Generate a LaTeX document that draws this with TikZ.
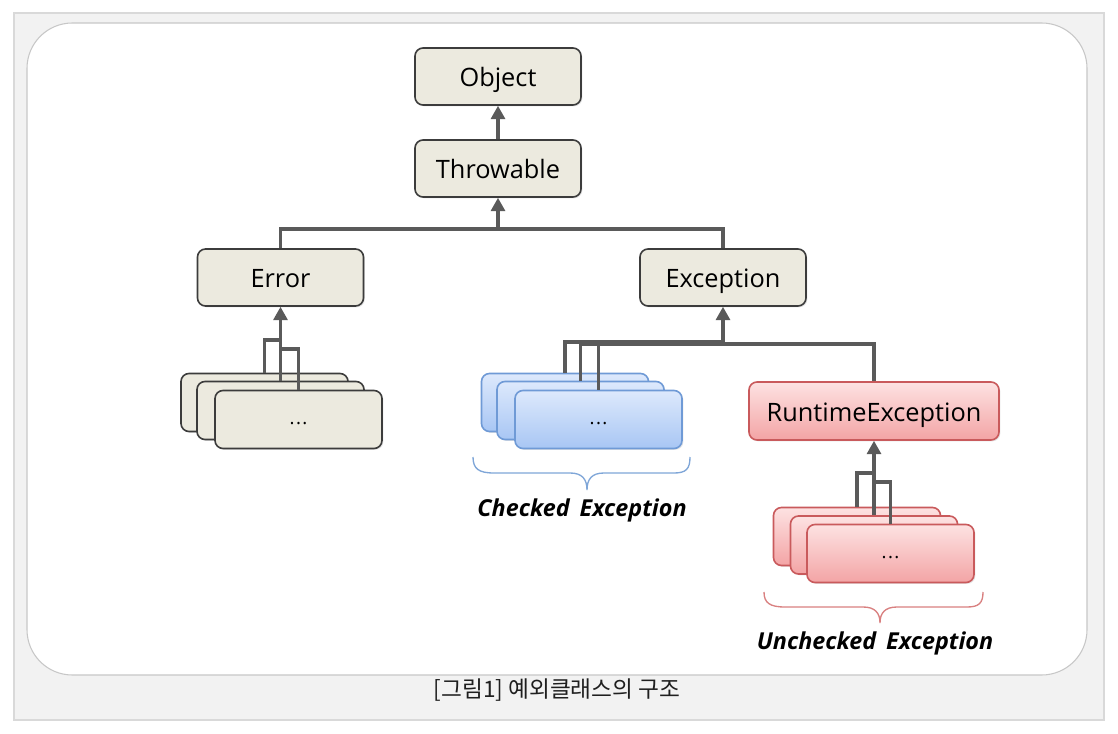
\documentclass[tikz,border=0pt]{standalone}
\usepackage{fontspec}
\setmainfont{Open Sans}
\newfontfamily\krfont{Noto Sans CJK KR}
\usetikzlibrary{arrows.meta,shadows,calc}
\definecolor{beige}{HTML}{ECEADF}
\definecolor{boxline}{HTML}{3C3C3C}
\definecolor{conn}{HTML}{5A5A5A}
\definecolor{bluetop}{HTML}{DDE9FC}
\definecolor{bluebot}{HTML}{A8C6F4}
\definecolor{blueline}{HTML}{6F9AD6}
\definecolor{redtop}{HTML}{FDE2E2}
\definecolor{redbot}{HTML}{F3A4A5}
\definecolor{redline}{HTML}{C95A5C}
\definecolor{bracecol}{HTML}{7FA6D8}
\definecolor{rbracecol}{HTML}{D98080}
\tikzset{
  cls/.style={draw=boxline, line width=1.2pt, fill=beige, rounded corners=6pt,
    minimum width=124.5pt, minimum height=42.75pt, font=\fontsize{19}{21}\selectfont,
    text height=15.5pt, text depth=0pt,
    drop shadow={opacity=0.2, shadow xshift=1pt, shadow yshift=-1pt}},
  stk/.style={cls, minimum width=125.25pt, minimum height=43.5pt, font=\fontsize{14}{16}\selectfont,
    text height=8pt, text depth=0pt},
  bstk/.style={stk, draw=blueline, top color=bluetop, bottom color=bluebot},
  rstk/.style={stk, draw=redline, top color=redtop, bottom color=redbot},
  rcls/.style={cls, draw=redline, top color=redtop, bottom color=redbot, minimum width=187.5pt, minimum height=43.5pt},
  conline/.style={draw=conn, line width=2.3pt},
  arr/.style={conline, -{Triangle[width=10.5pt,length=10pt]}},
  lbl/.style={font=\fontsize{17.5}{19}\selectfont\bfseries\itshape, text=black},
  brc/.style={line width=1pt},
}
\newcommand{\dotsx}{.\kern1pt.\kern1pt.}
\begin{document}
\begin{tikzpicture}[x=0.75pt,y=-0.75pt]
\useasboundingbox (0,0) rectangle (1118,734);
% frames
\draw[draw=black!15, fill=black!5, line width=1pt] (14,13) rectangle (1104,720);
\draw[draw=black!22, fill=white, line width=0.8pt, rounded corners=34pt] (27,23) rectangle (1087,675);
\node[font=\krfont\fontsize{17}{19}\selectfont, text=black!88] (cap) at (557,690) {[그림1] 예외클래스의 구조};

% main classes
\node[cls] (obj) at (498,76.5) {Object};
\node[cls] (thr) at (498,168.5) {Throwable};
\node[cls] (err) at (280.5,277.5) {Error};
\node[cls] (exc) at (723,277.5) {Exception};
\node[rcls] (rte) at (874,411) {RuntimeException};

% error stack
\node[stk] (e1) at (264.5,402.5) {};
\node[stk] (e2) at (280.5,410.5) {};
\node[stk] (e3) at (298.5,419.5) {\dotsx};
% checked stack
\node[bstk] (c1) at (565,402.5) {};
\node[bstk] (c2) at (580.5,410.5) {};
\node[bstk] (c3) at (598.5,419.5) {\dotsx};
% unchecked stack
\node[rstk] (u1) at (857,536.5) {};
\node[rstk] (u2) at (874,545) {};
\node[rstk] (u3) at (890.5,553.5) {\dotsx};

% junction coordinates
\coordinate (tj) at (498,229);
\coordinate (ej1) at (280.5,340);
\coordinate (ej3) at (280.5,349);
\coordinate (xj) at (723,344);
\coordinate (uj1) at (874,473);
\coordinate (uj3) at (874,482);

% connectors top
\draw[arr] (thr.north) -- (obj.south);
\draw[conline] (err.north) |- (tj);
\draw[conline] (exc.north) |- (tj);
\draw[arr] (tj) -- (thr.south);

% error group
\draw[conline] (e1.north) |- (ej1);
\draw[conline] (e3.north) |- (ej3);
\draw[arr] (e2.north) -- (err.south);

% exception group
\draw[conline] (c1.north) |- ($(xj)+(0,-2)$);
\draw[conline] (c2.north) |- (xj);
\draw[conline] (c3.north) |- (xj);
\draw[conline] (rte.north) |- (xj);
\draw[arr] (xj) -- (exc.south);

% unchecked group
\draw[conline] (u1.north) |- (uj1);
\draw[conline] (u3.north) |- (uj3);
\draw[arr] (u2.north) -- (rte.south);

% braces
\draw[brc, draw=bracecol] (473,457) .. controls (473,469) and (479,473) .. (494,473) -- (570,473)
  .. controls (582,473) and (587,479) .. (587,490) .. controls (587,479) and (592,473) .. (604,473)
  -- (674,473) .. controls (686,473) and (690,469) .. (690,457);
\node[lbl] (chk) at (582,510) {Checked\, Exception};
\draw[brc, draw=rbracecol] (764,592) .. controls (764,603) and (770,607) .. (785,607) -- (863,607)
  .. controls (875,607) and (880,613) .. (880,623) .. controls (880,613) and (885,607) .. (897,607)
  -- (967,607) .. controls (979,607) and (983,603) .. (983,592);
\node[lbl] (unchk) at (875,643) {Unchecked\, Exception};
\end{tikzpicture}
\end{document}
